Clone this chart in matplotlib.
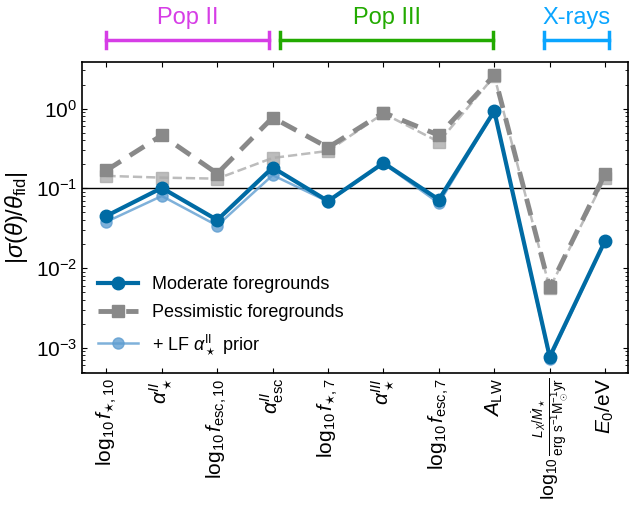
import numpy as np
import matplotlib
matplotlib.use("Agg")
import matplotlib.pyplot as plt

plt.rcParams["font.family"] = ["Liberation Sans", "DejaVu Sans"]
plt.rcParams["mathtext.fontset"] = "custom"
plt.rcParams["mathtext.rm"] = "Liberation Sans"
plt.rcParams["mathtext.it"] = "Liberation Sans:italic"
plt.rcParams["mathtext.bf"] = "Liberation Sans:bold"

labels = [
    r"$\log_{10} f_{\star,10}$",
    r"$\alpha_\star^{II}$",
    r"$\log_{10} f_{\rm esc,10}$",
    r"$\alpha_{\rm esc}^{II}$",
    r"$\log_{10} f_{\star,7}$",
    r"$\alpha_\star^{III}$",
    r"$\log_{10} f_{\rm esc,7}$",
    r"$A_{\rm LW}$",
    r"$\log_{10}\frac{L_X/\dot{M}_\star}{\rm erg\ s^{-1}M_\odot^{-1}yr}$",
    r"$E_0/{\rm eV}$",
]

moderate = [0.045, 0.101, 0.040, 0.182, 0.069, 0.208, 0.072, 0.93, 7.7e-4, 0.0221]
moderate_lf = [0.038, 0.080, 0.034, 0.146, 0.068, 0.205, 0.065, 0.92, 7.2e-4, 0.0218]
pessimistic = [0.168, 0.462, 0.153, 0.771, 0.324, 0.89, 0.462, 2.62, 0.0057, 0.153]
pessimistic_lf = [0.143, 0.136, 0.132, 0.240, 0.294, 0.87, 0.381, 2.55, 0.0056, 0.136]

x = np.arange(len(labels))

fig = plt.figure(figsize=(6.31, 5.07), dpi=100)
ax = fig.add_axes([0.13, 0.264, 0.865, 0.614])

ax.axhline(0.1, color="black", lw=1.0, zorder=1)

ax.plot(x, pessimistic_lf, color="#ababab", ls="--", lw=1.8, marker="s", ms=8,
        alpha=0.8, zorder=2)
ax.plot(x, pessimistic, color="#898989", ls=(0, (3.5, 2.2)), lw=3.5, marker="s", ms=9,
        label="Pessimistic foregrounds", zorder=3)
ax.plot(x, moderate_lf, color="#5f9ed1", lw=1.8, marker="o", ms=8, alpha=0.8,
        label=r"+ LF $\alpha_\star^{\rm II}$ prior", zorder=4)
ax.plot(x, moderate, color="#006ba4", lw=3, marker="o", ms=9,
        label="Moderate foregrounds", zorder=5)

ax.set_yscale("log")
ax.set_ylim(4.8e-4, 3.85)
ax.set_xlim(-0.44, 9.41)
ax.set_xticks(x)
ax.set_xticklabels(labels, rotation=90, fontsize=15)
ax.get_xticklabels()[8].set_fontsize(14)
ax.set_ylabel(r"$|\sigma(\theta)/\theta_{\rm fid}|$", fontsize=17)
ax.tick_params(axis="both", which="both", direction="in", top=True, right=True)
ax.tick_params(axis="y", labelsize=15)
for s in ax.spines.values():
    s.set_linewidth(1.2)

handles, labs = ax.get_legend_handles_labels()
order = [2, 0, 1]
ax.legend([handles[i] for i in order], [labs[i] for i in order], loc="lower left",
          frameon=False, fontsize=13, handlelength=2.2, labelspacing=0.6,
          bbox_to_anchor=(0.0, 0.0))

# parameter groups above the panel
groups = [("Pop II", 0.0, 2.93, "#d63de6"),
          ("Pop III", 3.14, 6.97, "#22aa00"),
          ("X-rays", 7.89, 9.07, "#0aa5ff")]
trans = ax.get_xaxis_transform()
for name, x0, x1, col in groups:
    ax.plot([x0, x1], [1.07, 1.07], color=col, lw=2.5, transform=trans, clip_on=False)
    for xe in (x0, x1):
        ax.plot([xe, xe], [1.043, 1.097], color=col, lw=2.5, transform=trans,
                clip_on=False)
    ax.text((x0 + x1) / 2, 1.105, name, color=col, fontsize=17, ha="center",
            va="bottom", transform=trans)

fig.savefig("out.png", dpi=100)
